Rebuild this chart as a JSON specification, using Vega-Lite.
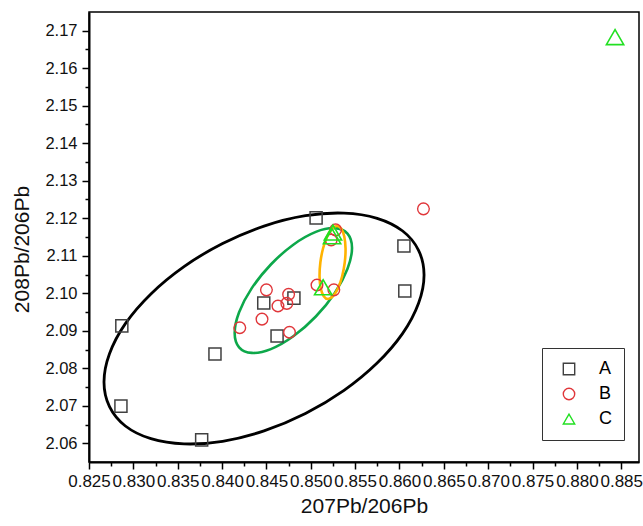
{
  "$schema": "https://vega.github.io/schema/vega-lite/v6.json",
  "width": 550,
  "height": 450,
  "autosize": {"type": "none"},
  "padding": {"left": 89, "top": 12, "right": 4, "bottom": 64},
  "background": "white",
  "config": {
    "view": {"stroke": "black", "strokeWidth": 1.5},
    "font": "Liberation Sans",
    "axis": {
      "domainColor": "black", "domainWidth": 2,
      "tickColor": "black", "tickWidth": 1.5,
      "labelColor": "#111", "titleColor": "#111",
      "labelFont": "Liberation Sans", "titleFont": "Liberation Sans",
      "titleFontWeight": "normal", "grid": false, "labelOverlap": false,
      "labelFlush": false, "titleLimit": 1000
    },
    "legend": {
      "orient": "none", "legendX": 453, "legendY": 336, "title": null,
      "strokeColor": "#333", "fillColor": "white", "padding": 12,
      "symbolSize": 130, "symbolStrokeWidth": 1.4, "symbolOffset": 6,
      "labelOffset": 21, "labelFontSize": 18, "labelFont": "Liberation Sans", "labelColor": "black",
      "rowPadding": 7
    }
  },
  "datasets": {
    "pts": [
      {"x": 0.8287, "y": 2.0913, "g": "A"},
      {"x": 0.8286, "y": 2.0699, "g": "A"},
      {"x": 0.8377, "y": 2.0609, "g": "A"},
      {"x": 0.8392, "y": 2.0838, "g": "A"},
      {"x": 0.8506, "y": 2.1201, "g": "A"},
      {"x": 0.8605, "y": 2.1126, "g": "A"},
      {"x": 0.8606, "y": 2.1006, "g": "A"},
      {"x": 0.8447, "y": 2.0974, "g": "A"},
      {"x": 0.8481, "y": 2.0987, "g": "A"},
      {"x": 0.8462, "y": 2.0886, "g": "A"},
      {"x": 0.8420, "y": 2.0908, "g": "B"},
      {"x": 0.8445, "y": 2.0931, "g": "B"},
      {"x": 0.8450, "y": 2.1009, "g": "B"},
      {"x": 0.8475, "y": 2.0997, "g": "B"},
      {"x": 0.8463, "y": 2.0966, "g": "B"},
      {"x": 0.8473, "y": 2.0973, "g": "B"},
      {"x": 0.8476, "y": 2.0896, "g": "B"},
      {"x": 0.8507, "y": 2.1022, "g": "B"},
      {"x": 0.8526, "y": 2.1009, "g": "B"},
      {"x": 0.8523, "y": 2.1142, "g": "B"},
      {"x": 0.8528, "y": 2.1169, "g": "B"},
      {"x": 0.8627, "y": 2.1225, "g": "B"},
      {"x": 0.8525, "y": 2.1162, "g": "C"},
      {"x": 0.8524, "y": 2.1152, "g": "C"},
      {"x": 0.8514, "y": 2.1016, "g": "C"},
      {"x": 0.8843, "y": 2.1683, "g": "C"}
    ],
    "black": [
      {"o": 1, "x": 0.86277, "y": 2.10487},
      {"o": 2, "x": 0.86215, "y": 2.09732},
      {"o": 3, "x": 0.86036, "y": 2.08929},
      {"o": 4, "x": 0.85748, "y": 2.08137},
      {"o": 5, "x": 0.85375, "y": 2.07409},
      {"o": 6, "x": 0.84940, "y": 2.06793},
      {"o": 7, "x": 0.84473, "y": 2.06329},
      {"o": 8, "x": 0.84006, "y": 2.06052},
      {"o": 9, "x": 0.83571, "y": 2.05983},
      {"o": 10, "x": 0.83198, "y": 2.06121},
      {"o": 11, "x": 0.82910, "y": 2.06460},
      {"o": 12, "x": 0.82731, "y": 2.06975},
      {"o": 13, "x": 0.82669, "y": 2.07633},
      {"o": 14, "x": 0.82731, "y": 2.08388},
      {"o": 15, "x": 0.82910, "y": 2.09191},
      {"o": 16, "x": 0.83198, "y": 2.09983},
      {"o": 17, "x": 0.83571, "y": 2.10711},
      {"o": 18, "x": 0.84006, "y": 2.11327},
      {"o": 19, "x": 0.84473, "y": 2.11791},
      {"o": 20, "x": 0.84940, "y": 2.12068},
      {"o": 21, "x": 0.85375, "y": 2.12137},
      {"o": 22, "x": 0.85748, "y": 2.11999},
      {"o": 23, "x": 0.86036, "y": 2.11660},
      {"o": 24, "x": 0.86215, "y": 2.11145}
    ],
    "green": [
      {"o": 1, "x": 0.85465, "y": 2.11207},
      {"o": 2, "x": 0.85414, "y": 2.10655},
      {"o": 3, "x": 0.85271, "y": 2.10009},
      {"o": 4, "x": 0.85057, "y": 2.09380},
      {"o": 5, "x": 0.84803, "y": 2.08852},
      {"o": 6, "x": 0.84550, "y": 2.08511},
      {"o": 7, "x": 0.84335, "y": 2.08409},
      {"o": 8, "x": 0.84192, "y": 2.08559},
      {"o": 9, "x": 0.84142, "y": 2.08940},
      {"o": 10, "x": 0.84192, "y": 2.09492},
      {"o": 11, "x": 0.84335, "y": 2.10137},
      {"o": 12, "x": 0.84550, "y": 2.10767},
      {"o": 13, "x": 0.84803, "y": 2.11295},
      {"o": 14, "x": 0.85057, "y": 2.11636},
      {"o": 15, "x": 0.85271, "y": 2.11737},
      {"o": 16, "x": 0.85414, "y": 2.11588}
    ],
    "orange": [
      {"o": 1, "x": 0.85296, "y": 2.11793},
      {"o": 2, "x": 0.85344, "y": 2.11719},
      {"o": 3, "x": 0.85378, "y": 2.11508},
      {"o": 4, "x": 0.85392, "y": 2.11193},
      {"o": 5, "x": 0.85383, "y": 2.10820},
      {"o": 6, "x": 0.85353, "y": 2.10447},
      {"o": 7, "x": 0.85307, "y": 2.10132},
      {"o": 8, "x": 0.85251, "y": 2.09921},
      {"o": 9, "x": 0.85194, "y": 2.09847},
      {"o": 10, "x": 0.85146, "y": 2.09921},
      {"o": 11, "x": 0.85112, "y": 2.10132},
      {"o": 12, "x": 0.85099, "y": 2.10447},
      {"o": 13, "x": 0.85108, "y": 2.10820},
      {"o": 14, "x": 0.85138, "y": 2.11193},
      {"o": 15, "x": 0.85184, "y": 2.11508},
      {"o": 16, "x": 0.85240, "y": 2.11719}
    ]
  },
  "encoding": {
    "x": {
      "field": "x", "type": "quantitative",
      "scale": {"domain": [0.825, 0.887], "nice": false, "zero": false},
      "axis": {
        "title": "207Pb/206Pb", "titleFontSize": 21, "titlePadding": 6,
        "labelFontSize": 17, "labelPadding": 4,
        "values": [0.825, 0.8275, 0.83, 0.8325, 0.835, 0.8375, 0.84, 0.8425, 0.845, 0.8475, 0.85, 0.8525, 0.855, 0.8575, 0.86, 0.8625, 0.865, 0.8675, 0.87, 0.8725, 0.875, 0.8775, 0.88, 0.8825, 0.885],
        "labelExpr": "round(datum.value*10000) % 50 == 0 ? format(datum.value, '.3f') : ''",
        "tickSize": {"condition": {"test": "round(datum.value*10000) % 50 == 0", "value": 7}, "value": 4}
      }
    },
    "y": {
      "field": "y", "type": "quantitative",
      "scale": {"domain": [2.055, 2.175], "nice": false, "zero": false},
      "axis": {
        "title": "208Pb/206Pb", "titleFontSize": 21, "titlePadding": 12, "titleY": 237,
        "labelFontSize": 16.5, "labelPadding": 5,
        "values": [2.06, 2.065, 2.07, 2.075, 2.08, 2.085, 2.09, 2.095, 2.1, 2.105, 2.11, 2.115, 2.12, 2.125, 2.13, 2.135, 2.14, 2.145, 2.15, 2.155, 2.16, 2.165, 2.17],
        "labelExpr": "round(datum.value*1000) % 10 == 0 ? format(datum.value, '.2f') : ''",
        "tickSize": {"condition": {"test": "round(datum.value*1000) % 10 == 0", "value": 7}, "value": 4}
      }
    }
  },
  "layer": [
    {
      "data": {"name": "black"},
      "mark": {"type": "line", "interpolate": "cardinal-closed", "color": "black", "strokeWidth": 2.8},
      "encoding": {"order": {"field": "o"}}
    },
    {
      "data": {"name": "green"},
      "mark": {"type": "line", "interpolate": "cardinal-closed", "color": "#0da84a", "strokeWidth": 2.6},
      "encoding": {"order": {"field": "o"}}
    },
    {
      "data": {"name": "orange"},
      "mark": {"type": "line", "interpolate": "cardinal-closed", "color": "#ffb300", "strokeWidth": 2.6},
      "encoding": {"order": {"field": "o"}}
    },
    {
      "data": {"name": "pts"},
      "transform": [{"filter": "datum.g == 'A'"}],
      "mark": {"type": "point", "filled": false, "strokeWidth": 1.5, "opacity": 1, "size": 145},
      "encoding": {
        "shape": {"field": "g", "type": "nominal", "scale": {"domain": ["A", "B", "C"], "range": ["square", "circle", "triangle-up"]}},
        "color": {"field": "g", "type": "nominal", "scale": {"domain": ["A", "B", "C"], "range": ["#404040", "#e0363a", "#22e022"]}}
      }
    },
    {
      "data": {"name": "pts"},
      "transform": [{"filter": "datum.g == 'B'"}],
      "mark": {"type": "point", "filled": false, "strokeWidth": 1.4, "opacity": 1, "size": 135},
      "encoding": {
        "shape": {"field": "g", "type": "nominal", "scale": {"domain": ["A", "B", "C"], "range": ["square", "circle", "triangle-up"]}},
        "color": {"field": "g", "type": "nominal", "scale": {"domain": ["A", "B", "C"], "range": ["#404040", "#e0363a", "#22e022"]}}
      }
    },
    {
      "data": {"name": "pts"},
      "transform": [{"filter": "datum.g == 'C'"}],
      "mark": {"type": "point", "filled": false, "strokeWidth": 1.6, "opacity": 1, "size": 300},
      "encoding": {
        "shape": {"field": "g", "type": "nominal", "scale": {"domain": ["A", "B", "C"], "range": ["square", "circle", "triangle-up"]}},
        "color": {"field": "g", "type": "nominal", "scale": {"domain": ["A", "B", "C"], "range": ["#404040", "#e0363a", "#22e022"]}}
      }
    }
  ]
}
